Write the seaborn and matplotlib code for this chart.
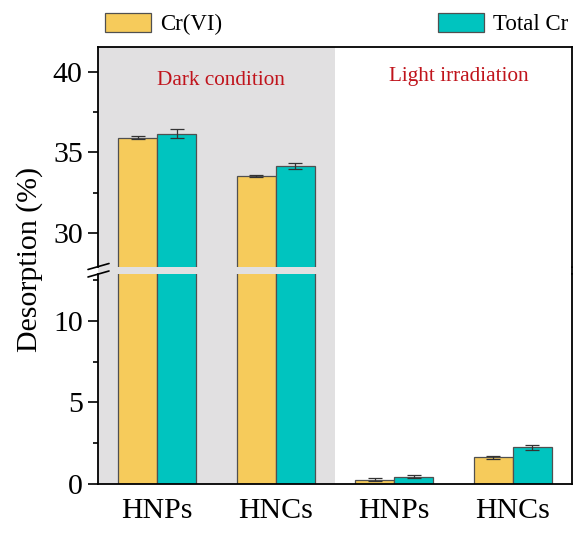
import numpy as np
import pandas as pd
import matplotlib
matplotlib.use('Agg')
import matplotlib.pyplot as plt
import seaborn as sns
from matplotlib.patches import Patch, Rectangle
from matplotlib.lines import Line2D

groups = ['Dark-HNPs', 'Dark-HNCs', 'Light-HNPs', 'Light-HNCs']
tick_labels = ['HNPs', 'HNCs', 'HNPs', 'HNCs']
series = ['Cr(VI)', 'Total Cr']
cr6 = [35.92, 33.52, 0.27, 1.63]
cr6_err = [0.11, 0.06, 0.10, 0.10]
totcr = [36.17, 34.16, 0.46, 2.25]
totcr_err = [0.29, 0.17, 0.08, 0.17]
colors = ['#F6CB5B', '#00C4BF']
conditions = ['Dark condition', 'Light irradiation']

df = pd.DataFrame({
    'group': groups * 2,
    'series': [series[0]] * 4 + [series[1]] * 4,
    'value': cr6 + totcr,
    'err': cr6_err + totcr_err,
})

sns.set_theme(style='ticks')
plt.rcParams['font.family'] = ['Liberation Serif', 'DejaVu Serif']
plt.rcParams['text.color'] = 'black'
plt.rcParams['axes.labelcolor'] = 'black'
plt.rcParams['xtick.color'] = 'black'
plt.rcParams['ytick.color'] = 'black'

W, H = 573, 534
fig = plt.figure(figsize=(W / 100, H / 100), dpi=100)
L, R = 98 / W, 572 / W
top_px, gap_top, gap_bot, base_px = 47, 267, 274, 484
ax_top = fig.add_axes([L, 1 - gap_top / H, R - L, (gap_top - top_px) / H])
ax_bot = fig.add_axes([L, 1 - base_px / H, R - L, (base_px - gap_bot) / H])

gray = '#E1E0E1'
for ax in (ax_top, ax_bot):
    sns.barplot(data=df, x='group', y='value', hue='series', palette=colors,
                order=groups, hue_order=series, width=0.66, edgecolor='#505050',
                linewidth=0.9, ax=ax, legend=False, errorbar=None, saturation=1)
    for bars, s in zip(ax.containers, series):
        sub = df[df.series == s].set_index('group').loc[groups]
        xs = [b.get_x() + b.get_width() / 2 for b in bars]
        ax.errorbar(xs, sub['value'].values, yerr=sub['err'].values, fmt='none',
                    ecolor='#333333', elinewidth=0.9, capsize=5, capthick=0.9, zorder=5)
    ax.axvspan(-0.5, 1.5, color=gray, zorder=0, lw=0)
    ax.set_xlim(-0.5, 3.5)
    ax.set_xlabel('')
    ax.set_ylabel('')
    for sp in ax.spines.values():
        sp.set_linewidth(1.3)
        sp.set_color('black')
    ax.tick_params(axis='y', direction='out', length=7, width=1.2, pad=4,
                   labelsize=21.5, colors='black')
    ax.tick_params(axis='y', which='minor', direction='out', length=3.5, width=1.2)

ax_top.set_ylim(27.89, 41.55)
ax_bot.set_ylim(0, 12.88)
ax_top.set_yticks([30, 35, 40])
ax_top.set_yticks([32.5, 37.5], minor=True)
ax_bot.set_yticks([0, 5, 10])
ax_bot.set_yticks([2.5, 7.5, 12.5], minor=True)
ax_top.spines['bottom'].set_visible(False)
ax_bot.spines['top'].set_visible(False)
ax_top.set_xticks([])
ax_bot.set_xticks(range(4))
ax_bot.set_xticklabels(tick_labels, fontsize=21.5)
ax_bot.tick_params(axis='x', length=0, pad=10, colors='black')

# gap band in the gray region and right spine continuation
x15 = 335 / W
fig.add_artist(Rectangle((L, 1 - gap_bot / H), x15 - L, (gap_bot - gap_top) / H,
                         transform=fig.transFigure, color=gray, lw=0, zorder=0))
fig.add_artist(Line2D([R, R], [1 - gap_bot / H, 1 - gap_top / H],
                      transform=fig.transFigure, color='black', lw=1.3))
# break marks
for (y0, y1) in [(269.5, 263.5), (277, 271)]:
    fig.add_artist(Line2D([88 / W, 109 / W], [1 - y0 / H, 1 - y1 / H],
                          transform=fig.transFigure, color='black', lw=1.2))

# condition annotations
ax_top.text(0.538, 39.5, conditions[0], color='#C0141C', fontsize=15.3,
            ha='center', va='center')
ax_top.text(2.546, 39.7, conditions[1], color='#C0141C', fontsize=15.3,
            ha='center', va='center')

fig.text(30 / W, 0.515, 'Desorption (%)', rotation=90, fontsize=21.5,
         ha='center', va='center', color='black')

# legends
h1 = [Patch(facecolor=colors[0], edgecolor='#505050', lw=0.9)]
h2 = [Patch(facecolor=colors[1], edgecolor='#505050', lw=0.9)]
lg1 = fig.legend(h1, [series[0]], loc='upper left', bbox_to_anchor=(105 / W, 1 - 13 / H),
                 frameon=False, fontsize=16.5, borderpad=0, borderaxespad=0,
                 handlelength=2.0, handleheight=0.9, handletextpad=0.4, labelcolor='black')
lg2 = fig.legend(h2, [series[1]], loc='upper right', bbox_to_anchor=(568 / W, 1 - 13 / H),
                 frameon=False, fontsize=16.5, borderpad=0, borderaxespad=0,
                 handlelength=2.0, handleheight=0.9, handletextpad=0.4, labelcolor='black')

fig.savefig('out.png', dpi=100)
